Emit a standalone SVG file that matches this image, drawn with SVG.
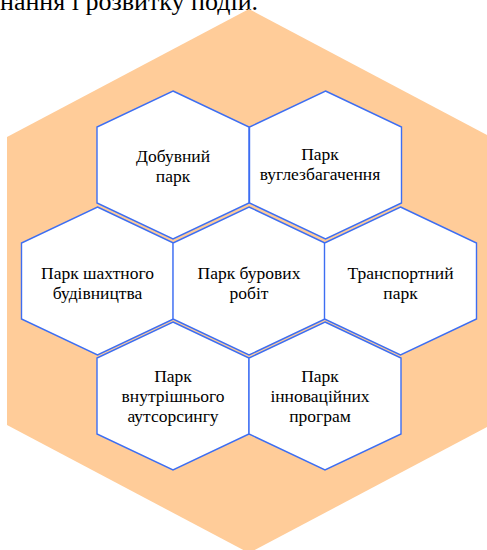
<svg xmlns="http://www.w3.org/2000/svg" width="487" height="550" viewBox="0 0 487 550">
<style>
.bg{fill:#FFCC99}
.hex{fill:#ffffff;stroke:#3D6EF2;stroke-width:1.4;stroke-linejoin:miter}
.lbl{font-family:'Liberation Serif','Times New Roman',serif;font-size:17.5px;fill:#000000;text-anchor:middle}
.top{font-family:'Liberation Serif','Times New Roman',serif;font-size:26px;fill:#000000}
</style>
<defs>
<polygon id="h" points="0,-74 76,-38 76,38 0,74 -76,38 -76,-38"/>
</defs>
<text class="top" x="0" y="10">нання і розвитку подій.</text>
<polygon class="bg" points="249,9 491,137 491,425 249,553 7,425 7,137"/>
<g id="connectors"></g>
<g id="n1"><use href="#h" class="hex" x="173" y="165"/><text class="lbl" x="173" y="162">Добувний<tspan x="173" y="182">парк</tspan></text></g>
<g id="n2"><use href="#h" class="hex" x="325.5" y="165"/><text class="lbl" x="320" y="160">Парк<tspan x="320" y="180">вуглезбагачення</tspan></text></g>
<g id="n3"><use href="#h" class="hex" x="97.5" y="281"/><text class="lbl" x="97.5" y="279">Парк шахтного<tspan x="97.5" y="299">будівництва</tspan></text></g>
<g id="n4"><use href="#h" class="hex" x="249" y="281"/><text class="lbl" x="249" y="279">Парк бурових<tspan x="249" y="299">робіт</tspan></text></g>
<g id="n5"><use href="#h" class="hex" x="400.5" y="281"/><text class="lbl" x="400.5" y="279">Транспортний<tspan x="400.5" y="299">парк</tspan></text></g>
<g id="n6"><use href="#h" class="hex" x="173" y="396"/><text class="lbl" x="173" y="382">Парк<tspan x="173" y="402">внутрішнього</tspan><tspan x="173" y="422">аутсорсингу</tspan></text></g>
<g id="n7"><use href="#h" class="hex" x="325" y="396"/><text class="lbl" x="320" y="382">Парк<tspan x="320" y="402">інноваційних</tspan><tspan x="320" y="422">програм</tspan></text></g>
</svg>
